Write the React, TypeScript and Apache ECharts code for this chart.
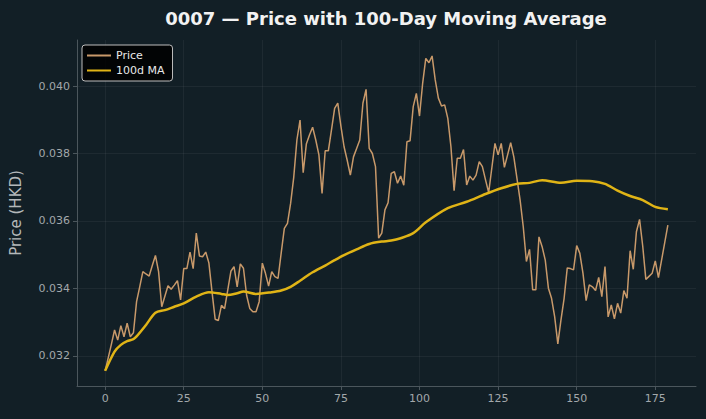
import React, { useEffect, useRef } from "react";
import * as echarts from "echarts";

// Daily closing price of 0007 (HKD), one value per trading day
const price: number[] = [
  0.03156, 0.03195, 0.03235, 0.03277, 0.03247, 0.0329, 0.03257, 0.03297, 0.03257, 0.03269,
  0.03361, 0.03405, 0.0345, 0.03443, 0.03437, 0.03468, 0.03498, 0.0345, 0.03346, 0.03377,
  0.03408, 0.03398, 0.0341, 0.03423, 0.03366, 0.03459, 0.03459, 0.03508, 0.03459, 0.03564,
  0.03496, 0.03494, 0.03508, 0.03476, 0.0339, 0.03309, 0.03305, 0.0335, 0.0334, 0.03395,
  0.03451, 0.03465, 0.03405, 0.03473, 0.0346, 0.0338, 0.03341, 0.03331, 0.03331, 0.03361,
  0.03475, 0.03445, 0.03407, 0.0345, 0.03435, 0.0343, 0.03505, 0.03578, 0.03593, 0.03652,
  0.0373, 0.0384, 0.03899, 0.03743, 0.03828, 0.03855, 0.03878, 0.0384, 0.03796, 0.03682,
  0.03808, 0.03808, 0.0387, 0.03934, 0.03949, 0.03881, 0.0382, 0.0378, 0.03736, 0.0379,
  0.03815, 0.0384, 0.03949, 0.0399, 0.03815, 0.038, 0.03761, 0.03549, 0.03564, 0.03633,
  0.03654, 0.03741, 0.03746, 0.03712, 0.03733, 0.03706, 0.03835, 0.03838, 0.03939, 0.03978,
  0.03911, 0.04008, 0.04082, 0.04069, 0.04089, 0.04018, 0.03964, 0.03941, 0.03944, 0.03904,
  0.0382, 0.0369, 0.03786, 0.03786, 0.03812, 0.03707, 0.03733, 0.03721, 0.03736, 0.03776,
  0.03761, 0.03722, 0.03684, 0.03757, 0.0383, 0.03796, 0.0383, 0.03759, 0.03795, 0.03832,
  0.0379, 0.03726, 0.03662, 0.03583, 0.0348, 0.03516, 0.03396, 0.03396, 0.03553, 0.03524,
  0.03484, 0.03401, 0.03371, 0.03316, 0.03236, 0.03307, 0.03371, 0.03461, 0.03459, 0.03455,
  0.03527, 0.03504, 0.03445, 0.03364, 0.03411, 0.03405, 0.03394, 0.03433, 0.03376, 0.03465,
  0.03316, 0.03351, 0.0331, 0.03356, 0.03327, 0.03394, 0.03371, 0.03512, 0.03457, 0.03568,
  0.03605, 0.03526, 0.03427, 0.03436, 0.03445, 0.03482, 0.03432, 0.03484, 0.03536, 0.03588,
];

// 100-day moving average, sampled at these day indices
const maDays: number[] = [
  0, 3, 5, 7, 9, 10, 13, 16, 19, 22, 25, 29, 33, 37, 39, 42, 44, 48, 53, 56, 59, 62, 66, 70,
  73, 76, 80, 84, 88, 91, 94, 98, 102, 109, 115, 121, 126, 131, 135, 139, 145, 150, 155, 159,
  163, 167, 171, 175, 179,
];
const maValues: number[] = [
  0.03156, 0.03213, 0.03233, 0.03244, 0.0325, 0.03258, 0.03292, 0.03328, 0.03336, 0.03346,
  0.03356, 0.03376, 0.03389, 0.03384, 0.03381, 0.03386, 0.03391, 0.03384, 0.03389, 0.03394,
  0.03405, 0.03423, 0.03448, 0.03468, 0.03484, 0.03499, 0.03516, 0.03532, 0.03539, 0.03542,
  0.03549, 0.03564, 0.03596, 0.03638, 0.03657, 0.0368, 0.03697, 0.0371, 0.03713, 0.03721,
  0.03713, 0.03719, 0.03718, 0.0371, 0.0369, 0.03674, 0.03662, 0.03642, 0.03635,
];

const xTicks: number[] = [0, 25, 50, 75, 100, 125, 150, 175];
const yTicks: number[] = [0.032, 0.034, 0.036, 0.038, 0.04];

const FONT = "'DejaVu Sans', sans-serif";
const BG = "#121f26";
const GRID = "rgba(255,255,255,0.05)";
const AXIS = "#4b565c";
const TICK_TEXT = "#a2a8ab";
const PRICE_COLOR = "#c8996a";
const MA_COLOR = "#e0b416";

export default function App() {
  const ref = useRef<HTMLDivElement>(null);

  useEffect(() => {
    if (!ref.current) return;
    const chart = echarts.init(ref.current, undefined, { renderer: "svg" });

    const priceData = price.map((v, i) => [i, v]);
    const maData = maDays.map((d, k) => [d, maValues[k]]);

    chart.setOption({
      animation: false,
      backgroundColor: BG,
      textStyle: { fontFamily: FONT },
      graphic: [
        {
          type: "text",
          x: 386,
          y: 18,
          style: {
            text: "0007 — Price with 100-Day Moving Average",
            fill: "#f2f2f2",
            font: `bold 18px ${FONT}`,
            textAlign: "center",
            textVerticalAlign: "middle",
          },
        },
      ],
      grid: { left: 76, right: 10, top: 40, bottom: 33, containLabel: false },
      legend: {
        left: 82,
        top: 45,
        orient: "vertical",
        backgroundColor: "rgba(0,0,0,0.85)",
        borderColor: "#bdbdbd",
        borderWidth: 1,
        borderRadius: 3,
        padding: [5, 8, 5, 4],
        itemGap: 4,
        itemWidth: 24,
        itemHeight: 10,
        itemStyle: { opacity: 0 },
        textStyle: { color: "#e8e8e8", fontSize: 11, fontFamily: FONT },
        data: [{ name: "Price" }, { name: "100d MA" }],
      },
      xAxis: {
        type: "value",
        min: -8.95,
        max: 187.95,
        axisLine: { show: true, onZero: false, lineStyle: { color: AXIS } },
        axisTick: { show: true, length: 4, lineStyle: { color: AXIS }, customValues: xTicks },
        axisLabel: {
          color: TICK_TEXT,
          fontSize: 11,
          fontFamily: FONT,
          margin: 7,
          customValues: xTicks,
        },
        splitLine: { show: true, lineStyle: { color: GRID, width: 1 } },
      },
      yAxis: {
        type: "value",
        min: 0.031111,
        max: 0.041363,
        name: "Price (HKD)",
        nameLocation: "middle",
        nameGap: 54,
        nameRotate: 90,
        nameTextStyle: { color: "#b4b8ba", fontSize: 15, fontFamily: FONT },
        axisLine: { show: true, onZero: false, lineStyle: { color: AXIS } },
        axisTick: { show: true, length: 4, lineStyle: { color: AXIS }, customValues: yTicks },
        axisLabel: {
          color: TICK_TEXT,
          fontSize: 11,
          fontFamily: FONT,
          margin: 7,
          customValues: yTicks,
          formatter: (v: number) => v.toFixed(3),
        },
        splitLine: { show: true, lineStyle: { color: GRID, width: 1 } },
      },
      series: [
        {
          name: "Price",
          type: "line",
          data: priceData,
          symbol: "none",
          color: PRICE_COLOR,
          lineStyle: { color: PRICE_COLOR, width: 1.5 },
          z: 2,
        },
        {
          name: "100d MA",
          type: "line",
          data: maData,
          symbol: "none",
          smooth: 0.3,
          color: MA_COLOR,
          lineStyle: { color: MA_COLOR, width: 2.5 },
          z: 3,
        },
      ],
    });

    return () => chart.dispose();
  }, []);

  return (
    <div
      ref={ref}
      style={{ width: 706, height: 419, position: "absolute", left: 0, top: 0, background: BG }}
    />
  );
}
